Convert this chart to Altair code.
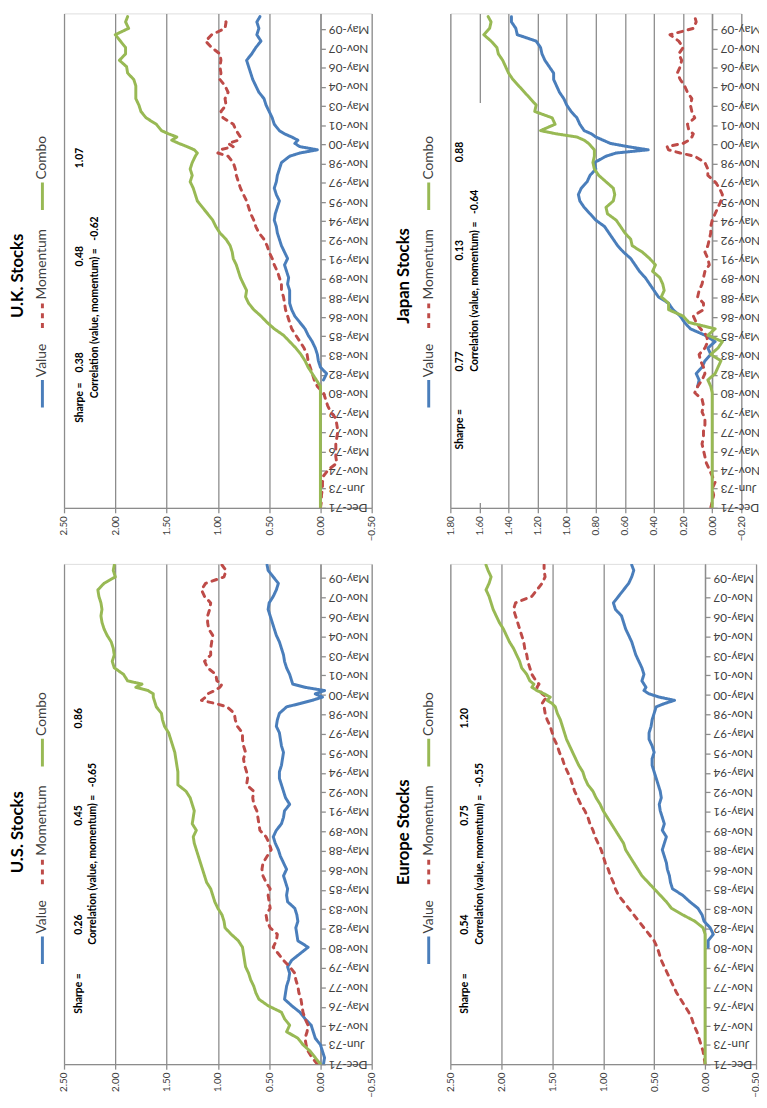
import altair as alt
import pandas as pd

# month index since Dec-1971 (shared sampling grid)
months = [0, 6, 12, 18, 24, 30, 36, 42, 48, 54, 60, 66, 72, 78, 84, 90, 96, 102, 108, 114,
          120, 126, 132, 138, 144, 150, 156, 162, 168, 174, 180, 186, 192, 198, 204, 210, 216, 222, 228, 234,
          240, 246, 252, 258, 264, 270, 276, 282, 288, 294, 300, 306, 312, 318, 324, 330,
          333, 336, 339, 342, 345, 348, 351, 354,
          360, 366, 372, 378, 384, 390, 396, 402, 408, 414, 420, 426, 432, 438, 444, 450, 456, 461]

N = None
us_value = [-0.03, -0.04, -0.02, 0.00, 0.05, 0.07, 0.09, 0.15, 0.20, 0.28,
            0.35, 0.34, 0.33, 0.31, 0.30, 0.32, 0.28, 0.20, 0.12, 0.22,
            0.23, 0.24, 0.22, 0.23, 0.25, 0.32, 0.33, 0.32, 0.34, 0.36,
            0.33, 0.36, 0.39, 0.41, 0.44, 0.46, 0.43, 0.38, 0.36, 0.35,
            0.30, 0.34, 0.36, 0.38, 0.40, 0.40, 0.38, 0.37, 0.36, 0.38,
            0.39, 0.40, 0.43, 0.42, 0.40, 0.33,
            0.20, 0.08, -0.02, 0.05, -0.04, 0.15, 0.27, 0.28,
            0.30, 0.33, 0.35, 0.36, 0.38, 0.40, 0.43, 0.45, 0.47, 0.49, 0.51, 0.50, 0.46, 0.43, 0.41, 0.46, 0.51,
            0.52]
us_momentum = [0.03, 0.08, 0.12, 0.14, 0.15, 0.13, 0.12, 0.15, 0.17, 0.18,
               0.19, 0.21, 0.22, 0.24, 0.25, 0.30, 0.36, 0.41, 0.46, 0.43,
               0.42, 0.49, 0.52, 0.53, 0.49, 0.50, 0.51, 0.49, 0.53, 0.56,
               0.57, 0.56, 0.52, 0.48, 0.50, 0.53, 0.59, 0.60, 0.61, 0.62,
               0.65, 0.66, 0.65, 0.72, 0.71, 0.72, 0.74, 0.75, 0.73, 0.75,
               0.76, 0.76, 0.81, 0.83, 0.84, 0.91,
               1.02, 1.16, 1.12, 1.10, 1.03, 0.98, 0.96, 1.01,
               1.02, 1.10, 1.13, 1.07, 1.07, 1.06, 1.05, 1.09, 1.10, 1.10, 1.08, 1.07, 1.13, 1.16, 1.12, 0.94, 0.92,
               0.96]
us_combo = [0.00, 0.05, 0.10, 0.17, 0.22, 0.33, 0.30, 0.35, 0.38, 0.51,
            0.60, 0.63, 0.65, 0.68, 0.70, 0.73, 0.74, 0.75, 0.76, 0.80,
            0.87, 0.93, 0.94, 0.96, 1.00, 1.03, 1.05, 1.07, 1.11, 1.13,
            1.15, 1.17, 1.19, 1.21, 1.23, 1.24, 1.21, 1.25, 1.24, 1.23,
            1.25, 1.27, 1.31, 1.39, 1.39, 1.39, 1.40, 1.41, 1.42, 1.44,
            1.46, 1.48, 1.52, 1.54, 1.55, 1.60,
            1.61, 1.62, 1.63, 1.63, 1.68, 1.80, 1.74, 1.88,
            1.92, 2.01, 2.03, 2.01, 2.02, 2.04, 2.08, 2.11, 2.13, 2.14, 2.13, 2.14, 2.16, 2.17, 2.11, 2.00, 2.02,
            2.01]

uk_value = [N, N, N, N, N, N, N, N, N, N,
            N, N, N, N, N, N, N, N, N, N,
            -0.03, -0.06, 0.00, 0.02, 0.03, 0.05, 0.08, 0.12, 0.15, 0.20,
            0.25, 0.28, 0.30, 0.30, 0.30, 0.32, 0.31, 0.33, 0.35, 0.32,
            0.35, 0.38, 0.40, 0.42, 0.43, 0.45, 0.44, 0.42, 0.40, 0.43,
            0.45, 0.43, 0.42, 0.40, 0.38, 0.30,
            0.20, 0.03, 0.20, 0.25, 0.22, 0.28, 0.35, 0.40,
            0.45, 0.47, 0.50, 0.53, 0.55, 0.60, 0.63, 0.66, 0.68, 0.70, 0.72, 0.67, 0.63, 0.58, 0.62, 0.60, 0.62,
            0.59]
uk_momentum = [0.00, -0.01, -0.01, -0.02, -0.02, -0.03, -0.08, -0.16, -0.15, -0.15,
               -0.15, -0.16, -0.17, -0.16, -0.15, -0.10, -0.07, -0.05, -0.03, 0.03,
               0.06, 0.08, 0.10, 0.12, 0.13, 0.16, 0.20, 0.24, 0.28, 0.30,
               0.32, 0.34, 0.35, 0.36, 0.38, 0.38, 0.40, 0.42, 0.45, 0.47,
               0.50, 0.52, 0.55, 0.60, 0.63, 0.65, 0.68, 0.70, 0.72, 0.75,
               0.78, 0.80, 0.82, 0.83, 0.85, 0.90,
               1.00, 0.98, 0.85, 0.90, 0.80, 0.78, 0.80, 0.82,
               0.85, 0.95, 0.97, 0.92, 0.93, 0.90, 0.93, 0.98, 0.97, 0.98, 0.97, 0.98, 1.06, 1.12, 1.06, 0.93, 0.92,
               0.95]
uk_combo = [0.00, 0.00, 0.00, 0.00, 0.00, 0.00, 0.00, 0.00, 0.00, 0.00,
            0.00, 0.00, 0.00, 0.00, 0.00, 0.00, 0.00, 0.00, 0.00, 0.00,
            0.04, 0.08, 0.12, 0.15, 0.19, 0.24, 0.30, 0.36, 0.45, 0.52,
            0.58, 0.65, 0.70, 0.73, 0.72, 0.75, 0.78, 0.80, 0.82, 0.85,
            0.86, 0.88, 0.92, 0.98, 1.02, 1.05, 1.10, 1.15, 1.20, 1.22,
            1.24, 1.27, 1.25, 1.27, 1.25, 1.22,
            1.20, 1.23, 1.30, 1.38, 1.45, 1.40, 1.48, 1.55,
            1.60, 1.70, 1.75, 1.77, 1.80, 1.80, 1.80, 1.82, 1.88, 1.89, 1.96, 1.90, 1.90, 1.95, 2.00, 1.87, 1.90,
            1.88]

jp_value = [N, N, N, N, N, N, N, N, N, N,
            N, N, N, N, N, N, N, N, N, 0.10,
            0.09, 0.11, 0.07, 0.05, 0.01, 0.03, -0.02, 0.05, 0.15, 0.19,
            0.22, 0.27, 0.30, 0.37, 0.40, 0.43, 0.46, 0.50, 0.53, 0.56,
            0.61, 0.65, 0.68, 0.71, 0.74, 0.80, 0.84, 0.88, 0.91, 0.92,
            0.90, 0.86, 0.84, 0.80, 0.81, 0.73,
            0.66, 0.44, 0.58, 0.70, 0.75, 0.80, 0.83, 0.88,
            0.91, 0.93, 0.97, 1.00, 1.02, 1.05, 1.07, 1.09, 1.09, 1.12, 1.15, 1.17, 1.18, 1.21, 1.34, 1.35, 1.38,
            1.38]
jp_momentum = [0.01, 0.00, -0.01, 0.00, -0.02, 0.00, 0.02, 0.04, 0.05, 0.06,
               0.07, 0.06, 0.06, 0.05, 0.05, 0.07, 0.06, 0.07, 0.12, 0.10,
               0.07, 0.05, 0.06, 0.08, 0.09, 0.05, 0.03, 0.04, 0.08, 0.11,
               0.13, 0.06, 0.06, 0.10, 0.09, 0.07, 0.06, 0.05, 0.02, 0.03,
               0.05, 0.03, 0.02, 0.01, 0.01, 0.00, -0.02, -0.04, -0.06, -0.07,
               -0.05, -0.02, 0.03, 0.03, 0.05, 0.12,
               0.22, 0.30, 0.31, 0.20, 0.16, 0.14, 0.13, 0.16,
               0.17, 0.12, 0.14, 0.15, 0.14, 0.17, 0.19, 0.22, 0.24, 0.22, 0.21, 0.23, 0.20, 0.23, 0.29, 0.13, 0.11,
               0.12]
jp_combo = [0.00, 0.00, 0.00, 0.00, 0.00, 0.00, 0.00, 0.00, 0.00, 0.00,
            0.00, 0.00, 0.00, 0.00, 0.00, 0.00, 0.00, 0.00, 0.00, 0.01,
            0.03, -0.02, -0.04, -0.06, 0.01, -0.04, -0.07, 0.03, -0.02, 0.16,
            0.20, 0.30, 0.30, 0.35, 0.33, 0.34, 0.36, 0.41, 0.39, 0.43,
            0.48, 0.55, 0.56, 0.60, 0.63, 0.66, 0.72, 0.73, 0.68, 0.67,
            0.68, 0.73, 0.78, 0.81, 0.82, 0.81,
            0.81, 0.81, 0.83, 0.85, 0.88, 0.93, 1.07, 1.18,
            1.08, 1.10, 1.22, 1.21, 1.25, 1.29, 1.33, 1.37, 1.40, 1.42, 1.44, 1.47, 1.48, 1.52, 1.57, 1.53, 1.52,
            1.54]

eu_value = [N, N, N, N, N, N, N, N, N, N,
            N, N, N, N, N, N, N, N, -0.03, -0.03,
            -0.08, -0.05, 0.01, 0.03, 0.07, 0.15, 0.22, 0.32, 0.34, 0.35,
            0.37, 0.38, 0.40, 0.42, 0.40, 0.38, 0.42, 0.40, 0.42, 0.44,
            0.45, 0.43, 0.44, 0.46, 0.48, 0.50, 0.52, 0.52, 0.50, 0.52,
            0.55, 0.55, 0.53, 0.52, 0.50, 0.48,
            0.40, 0.30, 0.45, 0.55, 0.60, 0.58, 0.60, 0.62,
            0.60, 0.62, 0.65, 0.68, 0.70, 0.72, 0.75, 0.78, 0.80, 0.82, 0.88, 0.90, 0.85, 0.80, 0.75, 0.72, 0.70,
            0.72]
eu_momentum = [0.00, 0.01, 0.02, 0.04, 0.06, 0.08, 0.11, 0.13, 0.16, 0.20,
               0.24, 0.28, 0.31, 0.34, 0.37, 0.40, 0.43, 0.45, 0.47, 0.50,
               0.55, 0.60, 0.65, 0.70, 0.75, 0.80, 0.85, 0.88, 0.90, 0.93,
               0.95, 0.98, 1.00, 1.02, 1.05, 1.08, 1.10, 1.13, 1.15, 1.18,
               1.22, 1.25, 1.28, 1.30, 1.32, 1.35, 1.38, 1.40, 1.43, 1.45,
               1.48, 1.50, 1.52, 1.55, 1.57, 1.58,
               1.60, 1.58, 1.55, 1.60, 1.62, 1.65, 1.63, 1.66,
               1.70, 1.72, 1.74, 1.75, 1.77, 1.78, 1.80, 1.82, 1.84, 1.86, 1.88, 1.86, 1.70, 1.65, 1.60, 1.57, 1.58,
               1.58]
eu_combo = [0.00, 0.00, 0.00, 0.00, 0.00, 0.00, 0.00, 0.00, 0.00, 0.00,
            0.00, 0.00, 0.00, 0.00, 0.00, 0.00, 0.00, 0.00, 0.00, 0.00,
            0.00, 0.02, 0.10, 0.22, 0.33, 0.38, 0.44, 0.50, 0.56, 0.62,
            0.66, 0.70, 0.74, 0.78, 0.80, 0.84, 0.88, 0.92, 0.96, 1.00,
            1.03, 1.07, 1.10, 1.15, 1.18, 1.20, 1.24, 1.27, 1.30, 1.33,
            1.36, 1.38, 1.40, 1.42, 1.45, 1.47,
            1.50, 1.55, 1.52, 1.58, 1.65, 1.70, 1.68, 1.72,
            1.75, 1.80, 1.82, 1.85, 1.88, 1.92, 1.95, 1.98, 2.02, 2.05, 2.08, 2.10, 2.12, 2.15, 2.12, 2.10, 2.13,
            2.15]

SERIES = ["Value", "Momentum", "Combo"]
COLORS = ["#4A7EBB", "#BE4B48", "#98B954"]
DASHES = [[1, 0], [5, 6], [1, 0]]

tick_ym = [(1971, 12), (1973, 6), (1974, 11), (1976, 5), (1977, 11), (1979, 5), (1980, 11),
           (1982, 5), (1983, 11), (1985, 5), (1986, 11), (1988, 5), (1989, 11), (1991, 5),
           (1992, 11), (1994, 5), (1995, 11), (1997, 5), (1998, 11), (2000, 5), (2001, 11),
           (2003, 5), (2004, 11), (2006, 5), (2007, 11), (2009, 5)]

wide_ticks = [-0.5, 0.0, 0.5, 1.0, 1.5, 2.0, 2.5]
jp_ticks = [-0.2, 0.0, 0.2, 0.4, 0.6, 0.8, 1.0, 1.2, 1.4, 1.6, 1.8]

GRID = "#8C8C8C"
LABEL = "#404040"
FONT = "Lato"


def month_ym(m):
    return 1971 + (11 + m) // 12, (11 + m) % 12 + 1


def month_to_date(m):
    y, mo = month_ym(m)
    return f"{y:04d}-{mo:02d}-01"


def dt(y, mo):
    return alt.DateTime(year=y, month=mo, date=1, utc=True)


one = pd.DataFrame({"k": [0]})


def make_panel(title, series_vals, xdom, xticks, width, height, mend, ann, box=False):
    rows = []
    for s, arr in zip(SERIES, series_vals):
        assert len(arr) == len(months)
        for m, v in zip(months, arr):
            if v is not None:
                rows.append({"date": month_to_date(m), "m": m, "v": v, "series": s})
    df = pd.DataFrame(rows)
    lo, hi = xdom
    zero_off = -width * (0 - lo) / (hi - lo)
    ey, em = month_ym(mend)

    x = alt.X("v:Q",
              scale=alt.Scale(domain=[lo, hi], reverse=True, nice=False, zero=False),
              axis=alt.Axis(values=xticks, format=".2f", labelAngle=270, labelFontSize=10,
                            labelFont=FONT, labelColor=LABEL, labelPadding=3,
                            grid=True, gridColor=GRID, gridWidth=1.3,
                            domainColor=GRID, domainWidth=1.3, tickColor=GRID,
                            tickWidth=1.3, tickSize=5, title=None))
    y = alt.Y("date:T",
              scale=alt.Scale(type="utc", domain=[dt(1971, 12), dt(ey, em)], nice=False),
              axis=alt.Axis(orient="right", offset=zero_off,
                            values=[dt(a, b) for a, b in tick_ym], format="%b-%y",
                            labelAngle=180, labelAlign="right", labelBaseline="middle",
                            labelFontSize=12, labelFont=FONT, labelColor=LABEL,
                            labelPadding=3, grid=False, domainColor=GRID, domainWidth=1.3,
                            tickColor=GRID, tickWidth=1.3, tickSize=5, title=None,
                            labelOverlap=False))

    lines = alt.Chart(df).mark_line(strokeWidth=3, strokeJoin="round", strokeCap="round",
                                    clip=True).encode(
        x=x, y=y,
        color=alt.Color("series:N", scale=alt.Scale(domain=SERIES, range=COLORS), legend=None),
        strokeDash=alt.StrokeDash("series:N", scale=alt.Scale(domain=SERIES, range=DASHES),
                                  legend=None),
        order=alt.Order("m:Q"),
    )

    layers = [lines]
    if box:
        layers.append(alt.Chart(one).mark_rect(color="white").encode(
            x=alt.value(3), x2=alt.value(40),
            y=alt.value(height - 412), y2=alt.value(height - 5)))

    # anchor pinning the left bound of the panel
    layers.append(alt.Chart(one).mark_rule(opacity=0).encode(
        x=alt.value(-62), y=alt.value(0), y2=alt.value(10)))

    # title
    layers.append(alt.Chart(one).mark_text(
        text=title, angle=270, align="center", baseline="middle", font=FONT,
        fontSize=17, fontWeight="bold", color="#000000").encode(
        x=alt.value(-47), y=alt.value(height - 236)))

    # legend
    leg = [("Value", COLORS[0], [1, 0], (102, 130), 133),
           ("Momentum", COLORS[1], [5, 5], (182, 208), 212),
           ("Combo", COLORS[2], [1, 0], (303, 331), 334)]
    for name, col, dash, (l0, l1), t0 in leg:
        layers.append(alt.Chart(one).mark_rule(color=col, strokeWidth=3, strokeDash=dash,
                                                strokeCap="butt").encode(
            x=alt.value(-22), y=alt.value(height - l1), y2=alt.value(height - l0)))
        layers.append(alt.Chart(one).mark_text(
            text=name, angle=270, align="left", baseline="middle", font=FONT,
            fontSize=14, color=LABEL).encode(
            x=alt.value(-22), y=alt.value(height - t0)))

    # Sharpe / correlation notes
    for txt, px, above in ann:
        layers.append(alt.Chart(one).mark_text(
            text=txt, angle=270, align="center", baseline="middle", font=FONT,
            fontSize=10.5, fontWeight="bold", color="#000000").encode(
            x=alt.value(px), y=alt.value(height - above)))

    return alt.layer(*layers).properties(width=width, height=height)


SP = "\u00a0\u00a0\u00a0"

uk = make_panel("U.K. Stocks", [uk_value, uk_momentum, uk_combo], (-0.5, 2.5), wide_ticks,
                313, 503, 464,
                [("Sharpe =", 16, 107), ("0.38", 16, 148), ("0.48", 16, 256), ("1.07", 16, 356),
                 ("Correlation (value, momentum) =" + SP + "-0.62", 31.5, 204)])
jp = make_panel("Japan Stocks", [jp_value, jp_momentum, jp_combo], (-0.2, 1.8), jp_ticks,
                296, 503, 464,
                [("Sharpe =", 10, 80), ("0.77", 10, 149), ("0.13", 10, 262), ("0.88", 10, 362),
                 ("Correlation (value, momentum) =" + SP + "-0.64", 25, 231)], box=True)
us = make_panel("U.S. Stocks", [us_value, us_momentum, us_combo], (-0.5, 2.5), wide_ticks,
                313, 509, 462,
                [("Sharpe =", 15, 72), ("0.26", 15, 142), ("0.45", 15, 253), ("0.86", 15, 352),
                 ("Correlation (value, momentum) =" + SP + "-0.65", 30, 214)])
eu = make_panel("Europe Stocks", [eu_value, eu_momentum, eu_combo], (-0.5, 2.5), wide_ticks,
                311, 509, 462,
                [("Sharpe =", 15, 72), ("0.54", 15, 142), ("0.75", 15, 253), ("1.20", 15, 352),
                 ("Correlation (value, momentum) =" + SP + "-0.55", 30, 214)])

chart = alt.concat(uk, jp, us, eu, columns=2, spacing={"row": 57, "column": 80},
                   bounds="flush").properties(
    padding={"left": -6, "top": -5, "right": -3, "bottom": 0}
).configure_view(stroke=None).configure(font=FONT)

chart.save("out.html", embed_options={"renderer": "svg", "actions": False})
